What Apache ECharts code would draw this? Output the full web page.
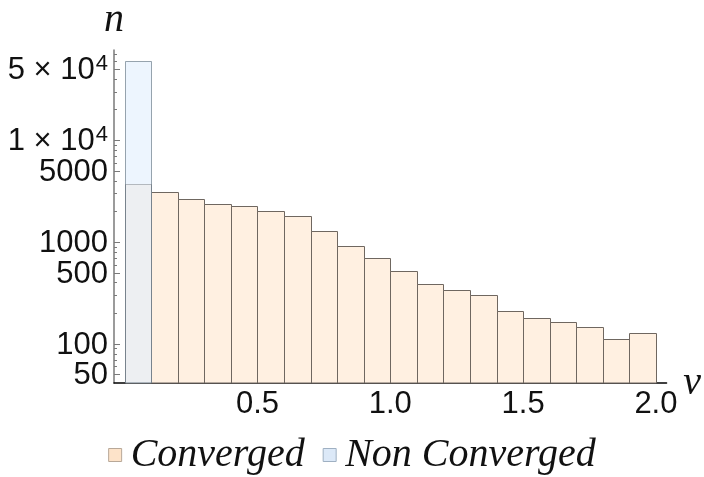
<!DOCTYPE html>
<html>
<head>
<meta charset="utf-8">
<script src="https://cdn.jsdelivr.net/npm/echarts@6/dist/echarts.min.js"></script>
<style>
  html, body { margin: 0; padding: 0; background: #ffffff; }
  #chart { width: 704px; height: 477px; }
</style>
</head>
<body>
<div id="chart"></div>
<script>
// Histogram of counts n over v, log-scaled count axis, bins of width 0.1
const binWidth = 0.1;
const binStarts = [0.0, 0.1, 0.2, 0.3, 0.4, 0.5, 0.6, 0.7, 0.8, 0.9,
                   1.0, 1.1, 1.2, 1.3, 1.4, 1.5, 1.6, 1.7, 1.8, 1.9];
const convergedCounts = [3690, 3110, 2630, 2370, 2230, 2000, 1790, 1270, 920, 700,
                         522, 388, 336, 301, 209, 181, 162, 147, 112, 129];
const nonConvergedStarts = [0.0];
const nonConvergedCounts = [60100];

const seriesNames = ['Converged', 'Non Converged'];

// Count-axis ticks
const yMajorTicks = [50, 100, 500, 1000, 5000, 10000, 50000];
const yMajorLabels = ['50', '100', '500', '1000', '5000', '{m|1 × 10}{e|4}', '{m|5 × 10}{e|4}'];
const yMinorTicks = [60, 70, 80, 90, 200, 300, 400, 600, 700, 800, 900,
                     2000, 3000, 4000, 6000, 7000, 8000, 9000,
                     20000, 30000, 40000, 60000, 70000];
const xTickValues = [0.5, 1.0, 1.5, 2.0];

const X_MIN = -0.04, X_MAX = 2.04;
const Y_MIN = 41.2, Y_MAX = 76700;

const LABEL_FONT = '"Liberation Sans", Arial, sans-serif';
const SERIF_FONT = '"Liberation Serif", "Times New Roman", serif';

function binData(starts, counts) {
  return starts.map((s, i) => [s, +(s + binWidth).toFixed(2), counts[i]]);
}

function histRenderer(fill, stroke) {
  return function (params, api) {
    const x0 = api.value(0), x1 = api.value(1), n = api.value(2);
    const tl = api.coord([x0, n]);
    const br = api.coord([x1, Y_MIN]);
    const left = Math.round(tl[0]) + 0.5;
    const right = Math.round(br[0]) + 0.5;
    const top = Math.round(tl[1]) + 0.5;
    const bottom = Math.round(br[1]);
    return {
      type: 'rect',
      shape: { x: left, y: top, width: right - left, height: bottom - top },
      style: { fill: fill, stroke: stroke, lineWidth: 1 }
    };
  };
}

function tickRenderer(len, withLabel) {
  return function (params, api) {
    const v = api.value(1);
    const p = api.coord([X_MIN, v]);
    const y = Math.round(p[1]) + 0.5;
    const children = [{
      type: 'line',
      shape: { x1: p[0], y1: y, x2: p[0] + len, y2: y },
      style: { stroke: '#7a7a7a', lineWidth: 1 }
    }];
    if (withLabel) {
      const idx = api.value(2);
      children.push({
        type: 'text',
        x: p[0] - 6,
        y: y + 1,
        style: {
          text: yMajorLabels[idx],
          fill: '#111111',
          font: '31px ' + LABEL_FONT,
          align: 'right',
          verticalAlign: 'middle',
          rich: {
            m: { fontSize: 31, fontFamily: LABEL_FONT, fill: '#111111' },
            e: { fontSize: 22, fontFamily: LABEL_FONT, fill: '#111111', verticalAlign: 'top', padding: [0, 0, 14, 1] }
          }
        }
      });
    }
    return { type: 'group', children: children };
  };
}

const chart = echarts.init(document.getElementById('chart'), null, { renderer: 'canvas' });

chart.setOption({
  backgroundColor: '#ffffff',
  animation: false,
  grid: { left: 114, right: 31, top: 43, bottom: 94 },
  legend: {
    bottom: -3,
    left: 'center',
    icon: 'rect',
    itemWidth: 13,
    itemHeight: 13,
    itemGap: 18,
    selectedMode: false,
    data: [
      { name: seriesNames[0], itemStyle: { color: '#fde3c9', borderColor: '#b8a898', borderWidth: 1 } },
      { name: seriesNames[1], itemStyle: { color: '#dce9f8', borderColor: '#9fb0c2', borderWidth: 1 } }
    ],
    textStyle: {
      fontFamily: SERIF_FONT,
      fontStyle: 'italic',
      fontSize: 40,
      color: '#111111',
      padding: [0, 0, 18, 4]
    }
  },
  xAxis: {
    type: 'value',
    min: X_MIN,
    max: X_MAX,
    name: 'ν',
    nameLocation: 'end',
    nameGap: 10,
    nameTextStyle: {
      fontFamily: SERIF_FONT,
      fontStyle: 'italic',
      fontSize: 40,
      color: '#111111',
      verticalAlign: 'middle',
      padding: [8, 0, 0, 0]
    },
    axisLine: { show: true, onZero: false, lineStyle: { color: '#000000', width: 1.5 } },
    axisTick: { show: true, inside: true, length: 5, customValues: xTickValues, lineStyle: { color: '#555555' } },
    axisLabel: {
      show: true,
      customValues: xTickValues,
      margin: 6,
      fontFamily: LABEL_FONT,
      fontSize: 31,
      color: '#111111',
      formatter: v => v.toFixed(1)
    },
    splitLine: { show: false }
  },
  yAxis: {
    type: 'log',
    logBase: 10,
    min: Y_MIN,
    max: Y_MAX,
    name: 'n',
    nameLocation: 'end',
    nameGap: 10,
    nameTextStyle: {
      fontFamily: SERIF_FONT,
      fontStyle: 'italic',
      fontSize: 40,
      color: '#111111'
    },
    axisLine: { show: true, onZero: false, lineStyle: { color: '#7a7a7a', width: 1.5 } },
    axisTick: { show: false },
    axisLabel: { show: false },
    splitLine: { show: false }
  },
  series: [
    {
      name: seriesNames[0],
      type: 'custom',
      renderItem: histRenderer('#fff0e1', '#6f6760'),
      encode: { x: [0, 1], y: 2 },
      itemStyle: { color: '#fde3c9' },
      data: binData(binStarts, convergedCounts),
      z: 2
    },
    {
      name: seriesNames[1],
      type: 'custom',
      renderItem: histRenderer('rgba(225,238,253,0.6)', 'rgba(110,125,140,0.7)'),
      encode: { x: [0, 1], y: 2 },
      itemStyle: { color: '#dce9f8' },
      data: binData(nonConvergedStarts, nonConvergedCounts),
      z: 3
    },
    {
      type: 'custom',
      silent: true,
      clip: false,
      renderItem: tickRenderer(6, true),
      encode: { x: 0, y: 1 },
      data: yMajorTicks.map((v, i) => [X_MIN, v, i]),
      z: 5
    },
    {
      type: 'custom',
      silent: true,
      clip: false,
      renderItem: tickRenderer(3, false),
      encode: { x: 0, y: 1 },
      data: yMinorTicks.map((v, i) => [X_MIN, v, i]),
      z: 5
    }
  ]
});
</script>
</body>
</html>
